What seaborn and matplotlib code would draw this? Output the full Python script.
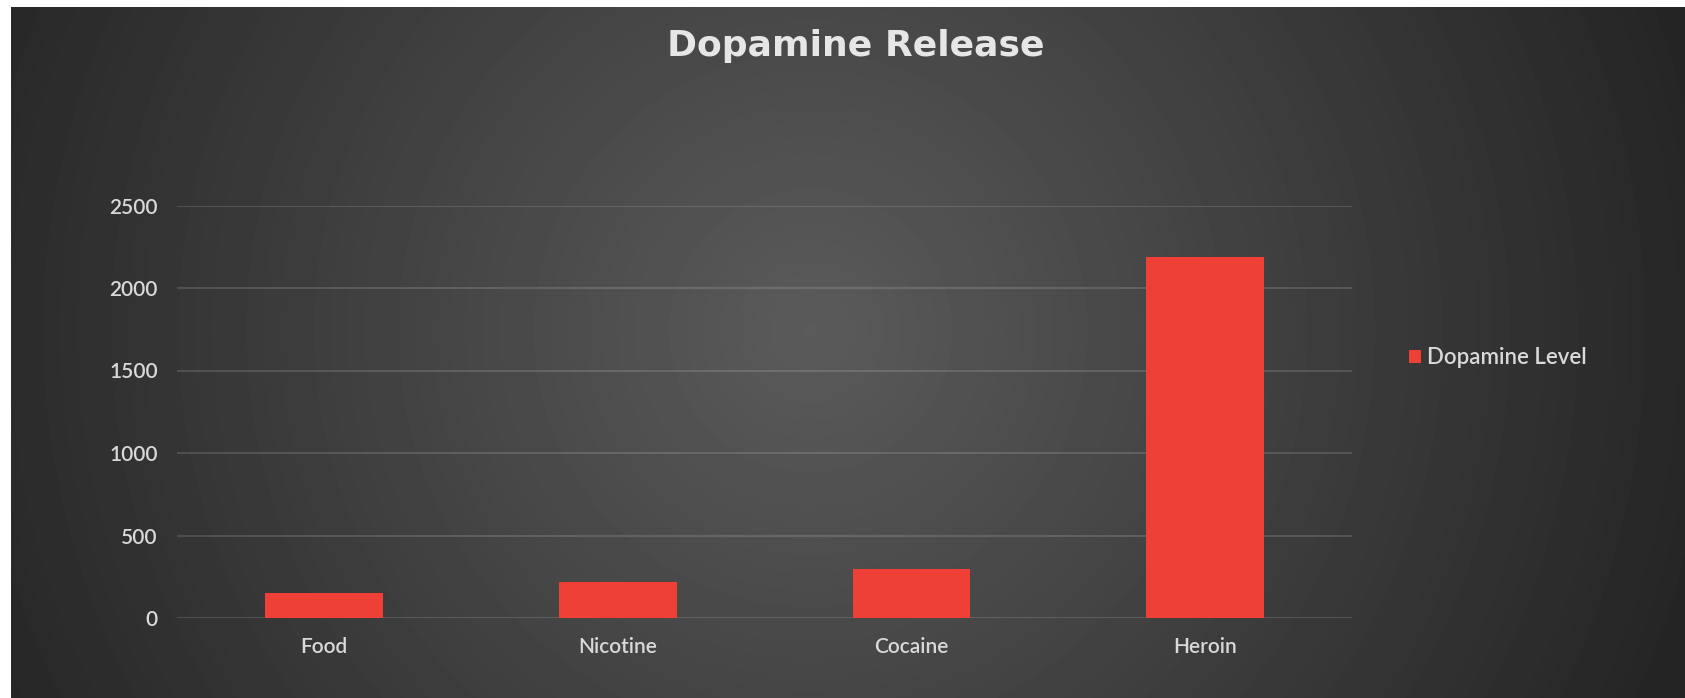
import numpy as np
import pandas as pd
import matplotlib
matplotlib.use("Agg")
import matplotlib.pyplot as plt
import seaborn as sns

# Chart data
substances = ["Food", "Nicotine", "Cocaine", "Heroin"]
dopamine_level = [150, 220, 300, 2190]
series_name = "Dopamine Level"
y_ticks = [0, 500, 1000, 1500, 2000, 2500]
chart_title = "Dopamine Release"

BAR_COLOR = "#EE4036"
TEXT_COLOR = "#d9d9d9"
LABEL_WEIGHT = "semibold"

sns.set_theme(style="dark")
plt.rcParams["font.family"] = ["Lato", "DejaVu Sans"]

W, H = 1685, 698
fig = plt.figure(figsize=(W / 100, H / 100), dpi=100, facecolor="white")

# Dark panel with a soft radial glow behind the chart
left_px, top_px = 11, 7
bg = fig.add_axes([left_px / W, 0, 1 - left_px / W, (H - top_px) / H], zorder=0)
gw, gh = W - left_px, H - top_px
xx, yy = np.meshgrid(np.arange(gw) + left_px, np.arange(gh) + top_px)
r = np.hypot((xx - 810) / 900, (yy - 330) / 900)
shade = np.clip(91 - 53 * r, 36, 91) / 255
bg.imshow(shade, cmap="gray", vmin=0, vmax=1, aspect="auto", interpolation="bilinear")
bg.set_axis_off()

# Plot area
ax = fig.add_axes([177.3 / W, 80 / H, (1352 - 177.3) / W, (618 - 205.5) / H], zorder=1)
ax.patch.set_alpha(0)

df = pd.DataFrame({"Substance": substances, "Level": dopamine_level, "Series": series_name})
sns.barplot(data=df, x="Substance", y="Level", hue="Series", palette=[BAR_COLOR],
            width=0.4, saturation=1, ax=ax, legend=True, linewidth=0, edgecolor="none")

ax.set_xlim(-0.5, len(substances) - 0.5)
ax.set_ylim(0, 2500)
ax.set_yticks(y_ticks)
ax.set_yticklabels([str(t) for t in y_ticks])
ax.set_xlabel("")
ax.set_ylabel("")
for s in ax.spines.values():
    s.set_visible(False)
ax.set_axisbelow(True)
ax.yaxis.grid(True, color="white", alpha=0.14, linewidth=1.4)
ax.xaxis.grid(False)
ax.tick_params(axis="both", length=0, labelsize=15, labelcolor=TEXT_COLOR)
ax.tick_params(axis="y", pad=14)
ax.tick_params(axis="x", pad=14)
for lbl in ax.get_xticklabels() + ax.get_yticklabels():
    lbl.set_fontweight(LABEL_WEIGHT)

# Legend to the right of the plot
handles, labels = ax.get_legend_handles_labels()
ax.get_legend().remove()
leg = fig.legend(handles, labels, loc="center left", bbox_to_anchor=(1409 / W, (H - 358) / H),
                 frameon=False, fontsize=16, labelcolor=TEXT_COLOR, handlelength=0.55,
                 handleheight=0.55, handletextpad=0.25, borderpad=0, borderaxespad=0)
for t in leg.get_texts():
    t.set_fontweight(LABEL_WEIGHT)
for p in leg.get_patches():
    p.set_edgecolor("none")

fig.text(856 / W, (H - 46) / H, chart_title, ha="center", va="center", fontsize=26,
         fontweight="bold", color="#e6e6e6", family=["DejaVu Sans"])

fig.savefig("out.png", dpi=100, facecolor="white")
